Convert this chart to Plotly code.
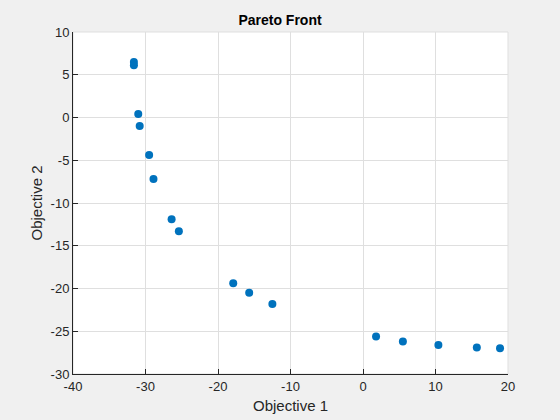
import plotly.graph_objects as go

# Pareto front points (objective 1, objective 2)
obj1 = [-31.6, -31.6, -31.0, -30.8, -29.5, -28.9, -26.4, -25.4,
        -17.9, -15.7, -12.5, 1.8, 5.5, 10.4, 15.7, 18.9]
obj2 = [6.5, 6.1, 0.4, -1.0, -4.4, -7.2, -11.9, -13.3,
        -19.4, -20.5, -21.8, -25.6, -26.2, -26.6, -26.9, -27.0]

x_ticks = [-40, -30, -20, -10, 0, 10, 20]
y_ticks = [10, 5, 0, -5, -10, -15, -20, -25, -30]

fig = go.Figure()
fig.add_trace(go.Scatter(
    x=obj1, y=obj2, mode="markers",
    marker=dict(color="#0072BD", size=8, line=dict(width=0)),
))

axis_style = dict(
    showgrid=True, gridcolor="#dfdfdf", gridwidth=1,
    showline=True, linecolor="#262626", linewidth=1, mirror=False,
    ticks="inside", ticklen=5, tickcolor="#262626",
    zeroline=False, tickfont=dict(size=13, color="#262626"),
    automargin=False,
)

# plain hyphen labels like the original, not unicode minus
fig.update_xaxes(range=[-40, 20], tickvals=x_ticks, ticktext=[str(t) for t in x_ticks],
                 title=dict(text="Objective 1", font=dict(size=15, color="#262626"), standoff=7),
                 **axis_style)
fig.update_yaxes(range=[-30, 10], tickvals=y_ticks, ticktext=[str(t) for t in y_ticks],
                 title=dict(text="Objective 2", font=dict(size=15, color="#262626"), standoff=4),
                 **axis_style)

# light frame on the open top/right sides
fig.add_shape(type="rect", xref="paper", yref="paper", x0=0, y0=0, x1=1, y1=1,
              line=dict(color="#dfdfdf", width=1), layer="below")

fig.update_layout(
    width=560, height=420,
    paper_bgcolor="#f0f0f0", plot_bgcolor="white",
    font=dict(family="Liberation Sans, Arial, sans-serif", color="#262626"),
    title=dict(text="<b>Pareto Front</b>", x=0.5, xanchor="center",
               y=1 - 20 / 420, yanchor="middle", font=dict(size=14, color="black")),
    margin=dict(l=73, r=52, t=32, b=46),
    showlegend=False,
)

fig.write_html("out.html", config={"displayModeBar": False},
               post_script="document.body.style.margin='0';")
